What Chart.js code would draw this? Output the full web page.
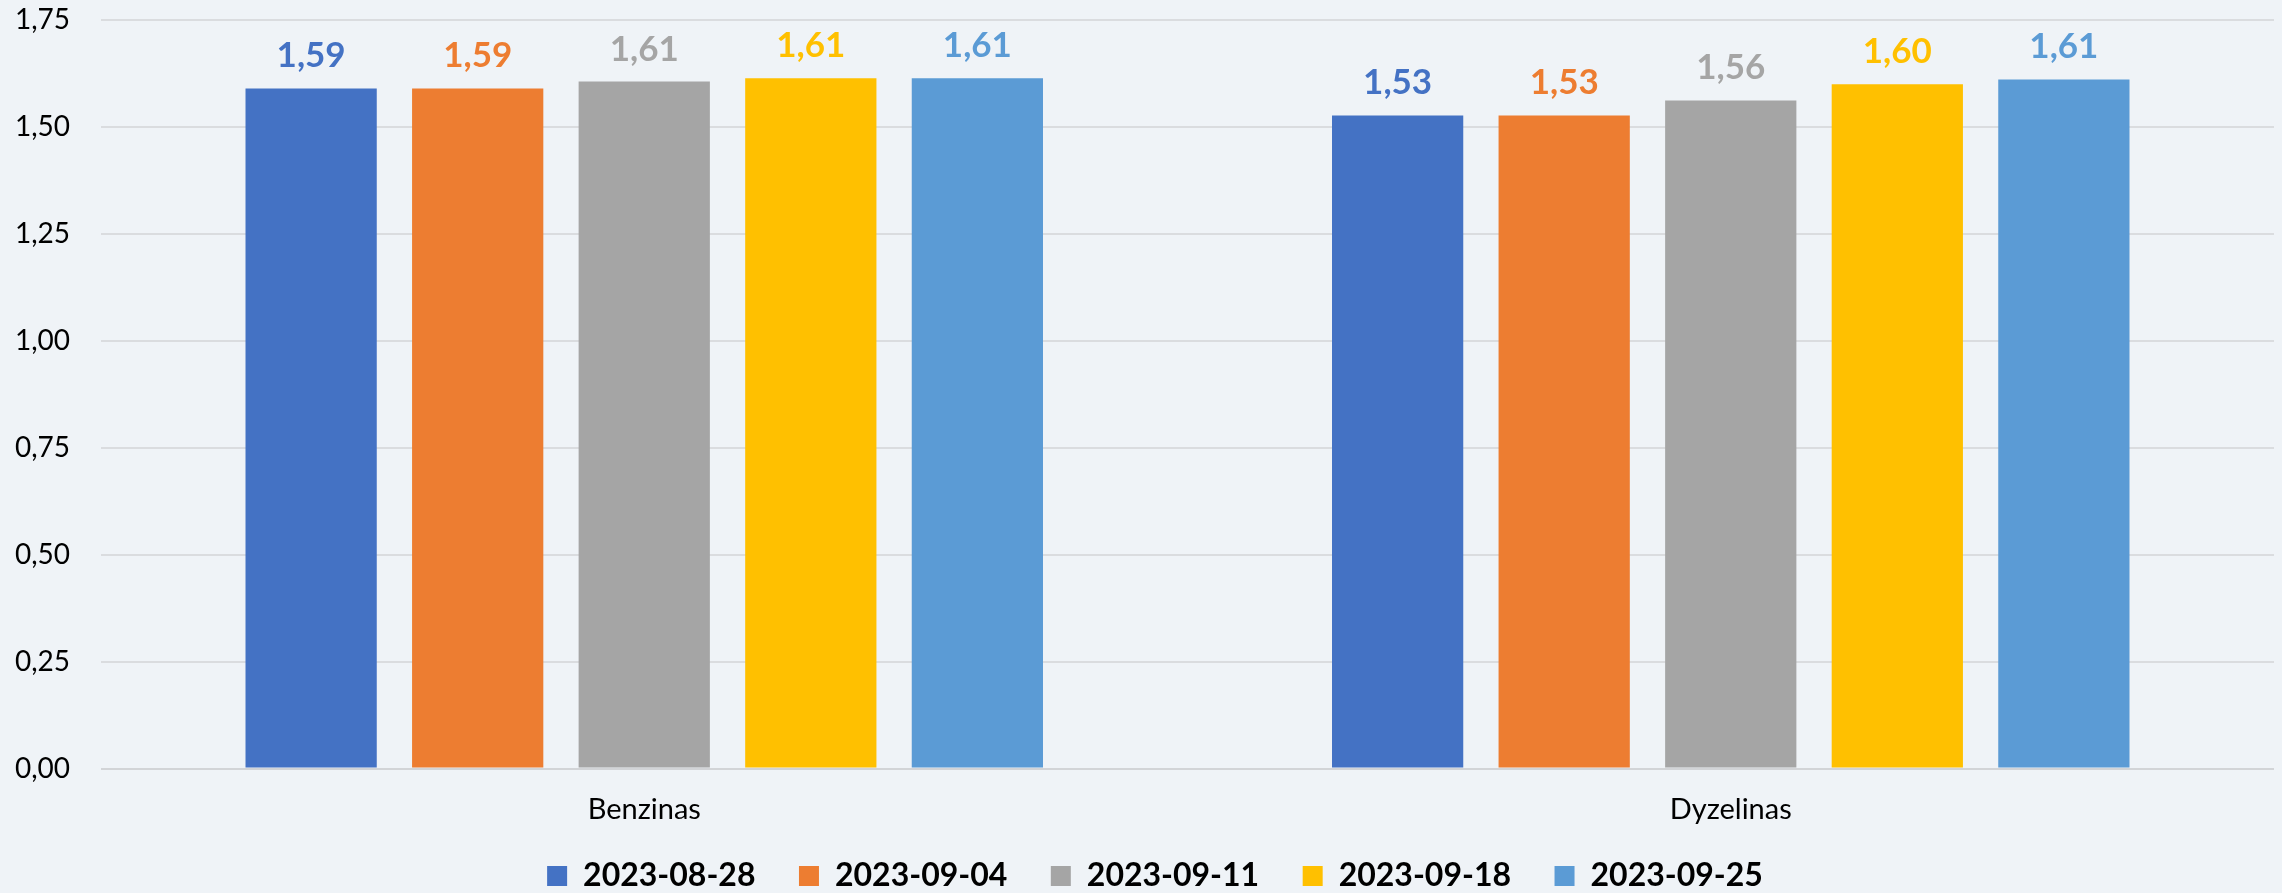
<!DOCTYPE html>
<html>
<head>
<meta charset="utf-8">
<script src="https://cdn.jsdelivr.net/npm/chart.js@4.4.0/dist/chart.umd.min.js"></script>
<style>
  html, body { margin: 0; padding: 0; background: #eff3f7; }
  #wrap { width: 2282px; height: 893px; position: relative; }
</style>
</head>
<body>
<div id="wrap"><canvas id="fuelChart"></canvas></div>
<script>
const categories = ['Benzinas', 'Dyzelinas'];
const weeks = ['2023-08-28', '2023-09-04', '2023-09-11', '2023-09-18', '2023-09-25'];
const week1 = [1.590, 1.527];
const week2 = [1.590, 1.527];
const week3 = [1.606, 1.562];
const week4 = [1.614, 1.600];
const week5 = [1.614, 1.611];
const yTicks = [0, 0.25, 0.5, 0.75, 1, 1.25, 1.5, 1.75];
const colors = ['#4472c4', '#ed7d31', '#a5a5a5', '#ffc000', '#5b9bd5'];

const series = [week1, week2, week3, week4, week5];
const fmt = v => v.toFixed(2).replace('.', ',');

// value labels above each bar
const barLabels = {
  id: 'barLabels',
  afterDatasetsDraw(chart) {
    const ctx = chart.ctx;
    ctx.save();
    ctx.font = 'bold 35px Lato';
    ctx.textAlign = 'center';
    ctx.textBaseline = 'alphabetic';
    chart.data.datasets.forEach((ds, i) => {
      chart.getDatasetMeta(i).data.forEach((bar, j) => {
        ctx.fillStyle = ds.backgroundColor;
        ctx.fillText(fmt(ds.data[j]), bar.x, bar.y - 21);
      });
    });
    ctx.restore();
  }
};

// small nudge so the legend sits where the original one does
const legendNudge = {
  id: 'legendNudge',
  afterLayout(chart) {
    const l = chart.legend;
    l.left += 18; l.right += 18;
    l.top -= 11; l.bottom -= 11;
  }
};

Chart.defaults.font.family = 'Lato';
Chart.defaults.color = '#000';

const ctx = document.getElementById('fuelChart').getContext('2d');
new Chart(ctx, {
  type: 'bar',
  data: {
    labels: categories,
    datasets: weeks.map((w, i) => ({
      label: w,
      data: series[i],
      backgroundColor: colors[i],
      borderWidth: 0,
      categoryPercentage: 0.7665,
      barPercentage: 0.788
    }))
  },
  options: {
    responsive: true,
    maintainAspectRatio: false,
    animation: false,
    layout: { padding: { top: 20, right: 8, left: 0, bottom: -20 } },
    plugins: {
      tooltip: { enabled: false },
      legend: {
        position: 'bottom',
        labels: {
          font: { size: 32, weight: 'bold' },
          boxWidth: 20,
          boxHeight: 20,
          padding: 43.5,
          color: '#000'
        }
      }
    },
    scales: {
      x: {
        grid: { display: false, drawTicks: false },
        border: { display: false },
        ticks: { font: { size: 29 }, padding: 24, color: '#000' },
        afterFit(scale) { scale.height = 59; }
      },
      y: {
        min: 0,
        max: 1.75,
        afterBuildTicks(scale) { scale.ticks = yTicks.map(v => ({ value: v })); },
        border: { display: false },
        grid: {
          drawTicks: false,
          lineWidth: 2,
          color: c => (c.tick && c.tick.value === 0) ? '#d2d4d7' : '#dadcdf'
        },
        ticks: {
          font: { size: 28 },
          padding: 31,
          color: '#000',
          callback: v => fmt(v)
        },
        afterFit(scale) {
          scale.width = 101;
          scale.paddingTop = 0;
          scale.paddingBottom = 0;
        }
      }
    }
  },
  plugins: [barLabels, legendNudge]
});
</script>
</body>
</html>
